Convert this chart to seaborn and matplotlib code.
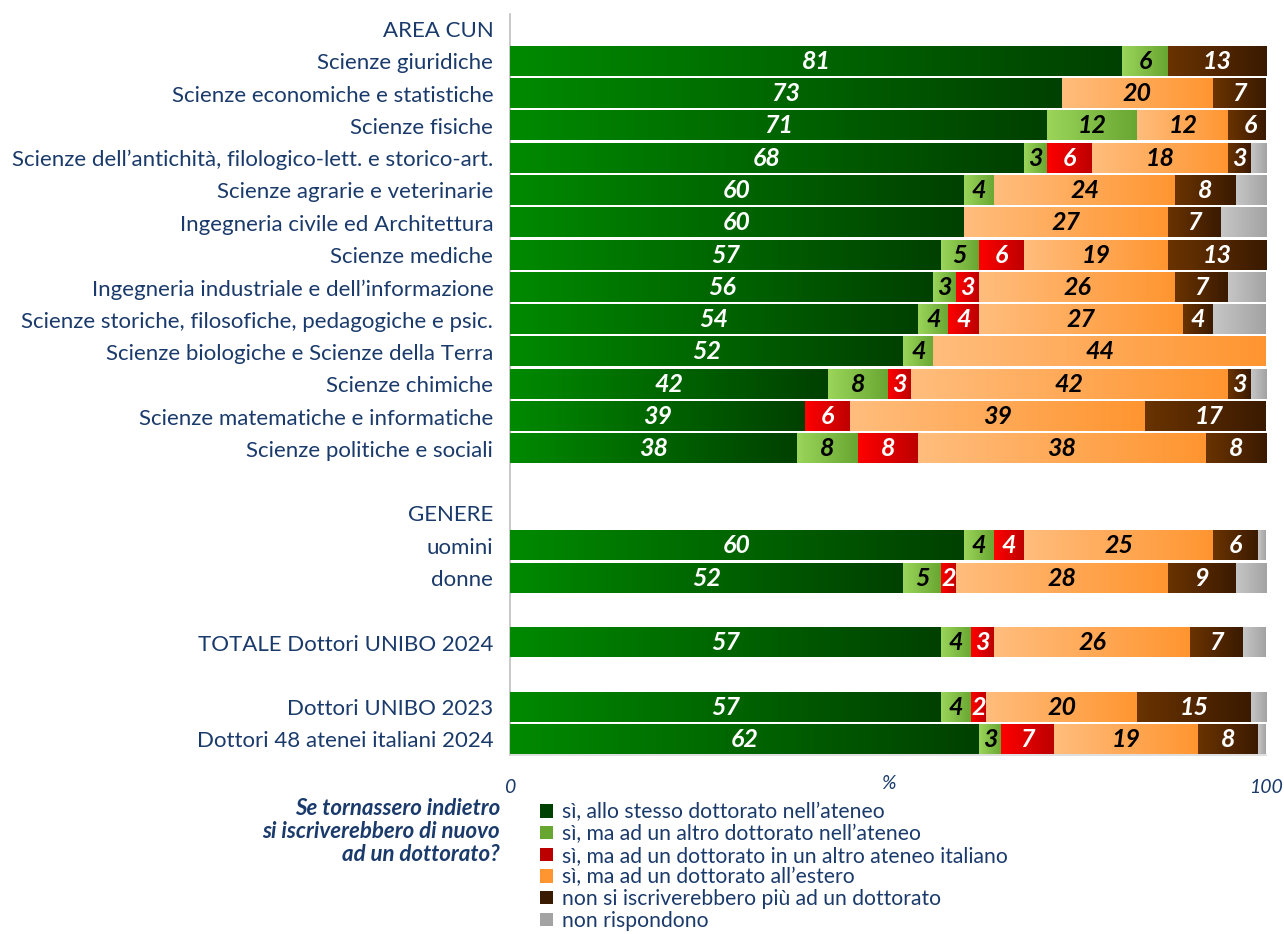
import numpy as np
import pandas as pd
import matplotlib
matplotlib.use("Agg")
import matplotlib.pyplot as plt
import seaborn as sns
from matplotlib.colors import LinearSegmentedColormap
from matplotlib.patches import Patch

# ---------------- data ----------------
categories = [
    "Scienze giuridiche",
    "Scienze economiche e statistiche",
    "Scienze fisiche",
    "Scienze dell\u2019antichità, filologico-lett. e storico-art.",
    "Scienze agrarie e veterinarie",
    "Ingegneria civile ed Architettura",
    "Scienze mediche",
    "Ingegneria industriale e dell\u2019informazione",
    "Scienze storiche, filosofiche, pedagogiche e psic.",
    "Scienze biologiche e Scienze della Terra",
    "Scienze chimiche",
    "Scienze matematiche e informatiche",
    "Scienze politiche e sociali",
    "uomini",
    "donne",
    "TOTALE Dottori UNIBO 2024",
    "Dottori UNIBO 2023",
    "Dottori 48 atenei italiani 2024",
]
si_stesso_dottorato = [81, 73, 71, 68, 60, 60, 57, 56, 54, 52, 42, 39, 38, 60, 52, 57, 57, 62]
si_altro_dottorato_ateneo = [6, 0, 12, 3, 4, 0, 5, 3, 4, 4, 8, 0, 8, 4, 5, 4, 4, 3]
si_altro_ateneo_italiano = [0, 0, 0, 6, 0, 0, 6, 3, 4, 0, 3, 6, 8, 4, 2, 3, 2, 7]
si_estero = [0, 20, 12, 18, 24, 27, 19, 26, 27, 44, 42, 39, 38, 25, 28, 26, 20, 19]
non_iscriverebbero = [13, 7, 6, 3, 8, 7, 13, 7, 4, 0, 3, 17, 8, 6, 9, 7, 15, 8]
non_rispondono = [0, 0, 0, 2, 4, 6, 0, 5, 7, 0, 2, 0, 0, 1, 4, 3, 2, 1]

series_names = [
    "sì, allo stesso dottorato nell\u2019ateneo",
    "sì, ma ad un altro dottorato nell\u2019ateneo",
    "sì, ma ad un dottorato in un altro ateneo italiano",
    "sì, ma ad un dottorato all\u2019estero",
    "non si iscriverebbero più ad un dottorato",
    "non rispondono",
]
group_headers = ["AREA CUN", "GENERE"]
question = "Se tornassero indietro\nsi iscriverebbero di nuovo\nad un dottorato?"

# ---------------- styling ----------------
NAVY = "#1A3A6B"
FONT = "Lato"
gradients = [
    ("#008A00", "#004000"),
    ("#9BD55A", "#68A632"),
    ("#FF0000", "#BC0000"),
    ("#FFBD7D", "#FF9530"),
    ("#6A3300", "#3A1A00"),
    ("#C6C6C6", "#A3A3A3"),
]
label_colors = ["white", "black", "white", "black", "white", None]

# row layout (row units)
positions = list(range(1, 14)) + [16, 17, 19, 21, 22]
header_positions = [0, 15]

sns.set_theme(style="white")
plt.rcParams["font.family"] = [FONT, "DejaVu Sans"]

fig = plt.figure(figsize=(12.84, 9.34), dpi=100)
ax = fig.add_axes([510 / 1284, (934 - 755) / 934, 756 / 1284, 741 / 934])

all_series = [si_stesso_dottorato, si_altro_dottorato_ateneo, si_altro_ateneo_italiano,
              si_estero, non_iscriverebbero, non_rispondono]

left = np.zeros(len(positions))
for s_idx, (vals, name, (c0, c1), lc) in enumerate(
        zip(all_series, series_names, gradients, label_colors)):
    d = pd.DataFrame({"pos": positions, "val": vals})
    n_before = len(ax.patches)
    sns.barplot(data=d, x="val", y="pos", orient="y", native_scale=True,
                left=left.copy(), width=0.9, color=c1, linewidth=0,
                edgecolor="none", errorbar=None, ax=ax, zorder=2)
    cmap = LinearSegmentedColormap.from_list(f"g{s_idx}", [c0, c1])
    grad = np.linspace(0, 1, 256).reshape(1, -1)
    for p, v in zip(ax.patches[n_before:], vals):
        x0, y0 = p.get_x(), p.get_y()
        w, h = p.get_width(), p.get_height()
        if w <= 0:
            continue
        x1 = min(x0 + w, 100)
        ax.imshow(grad, extent=(x0, x1, y0 + h, y0), cmap=cmap, aspect="auto",
                  interpolation="bilinear", zorder=3)
        if lc is not None and v >= 2:
            ax.text(x0 + w / 2, y0 + h / 2, f"{v:g}", ha="center", va="center",
                    color=lc, fontsize=18, fontweight="bold", fontstyle="italic",
                    zorder=5)
    left = left + np.array(vals, dtype=float)

# axes limits & ticks
ax.set_xlim(0, 100)
ax.set_ylim(22.48, -0.464)
ytick_pos = header_positions + positions
ytick_lab = group_headers + categories
ax.set_yticks(ytick_pos)
ax.set_yticklabels(ytick_lab)
ax.tick_params(axis="y", length=0, pad=12, labelsize=16, labelcolor=NAVY)
ax.set_ylabel("")
ax.set_xticks([0, 100])
ax.set_xticklabels(["0", "100"])
ax.tick_params(axis="x", length=0, pad=17, labelsize=14, labelcolor=NAVY)
for t in ax.get_xticklabels():
    t.set_fontstyle("italic")
ax.set_xlabel("%", fontsize=14, color=NAVY, fontstyle="italic")
ax.xaxis.set_label_coords(0.5, -0.0378)
ax.xaxis.label.set_va("center")

for sp in ["top", "right"]:
    ax.spines[sp].set_visible(False)
ax.spines["left"].set_color("#BFBFBF")
ax.spines["left"].set_linewidth(1.2)
ax.spines["bottom"].set_color("#D9D9D9")
ax.spines["bottom"].set_linewidth(1.2)
ax.grid(False)

# legend
handles = [Patch(facecolor=c1, edgecolor="none", label=n)
           for (c0, c1), n in zip(gradients, series_names)]
leg = fig.legend(handles=handles, loc="upper left",
                 bbox_to_anchor=(532 / 1284, 1 - 794 / 934), frameon=False,
                 fontsize=15.2, handlelength=0.6, handleheight=0.6,
                 handletextpad=0.4, labelspacing=0.08, borderaxespad=0)
for t in leg.get_texts():
    t.set_color(NAVY)

fig.text(500 / 1284, 1 - 798 / 934, question, ha="right", va="top",
         multialignment="right", color=NAVY, fontsize=16, fontweight="bold",
         fontstyle="italic", linespacing=1.12)

fig.savefig("out.png", dpi=100, facecolor="white")
